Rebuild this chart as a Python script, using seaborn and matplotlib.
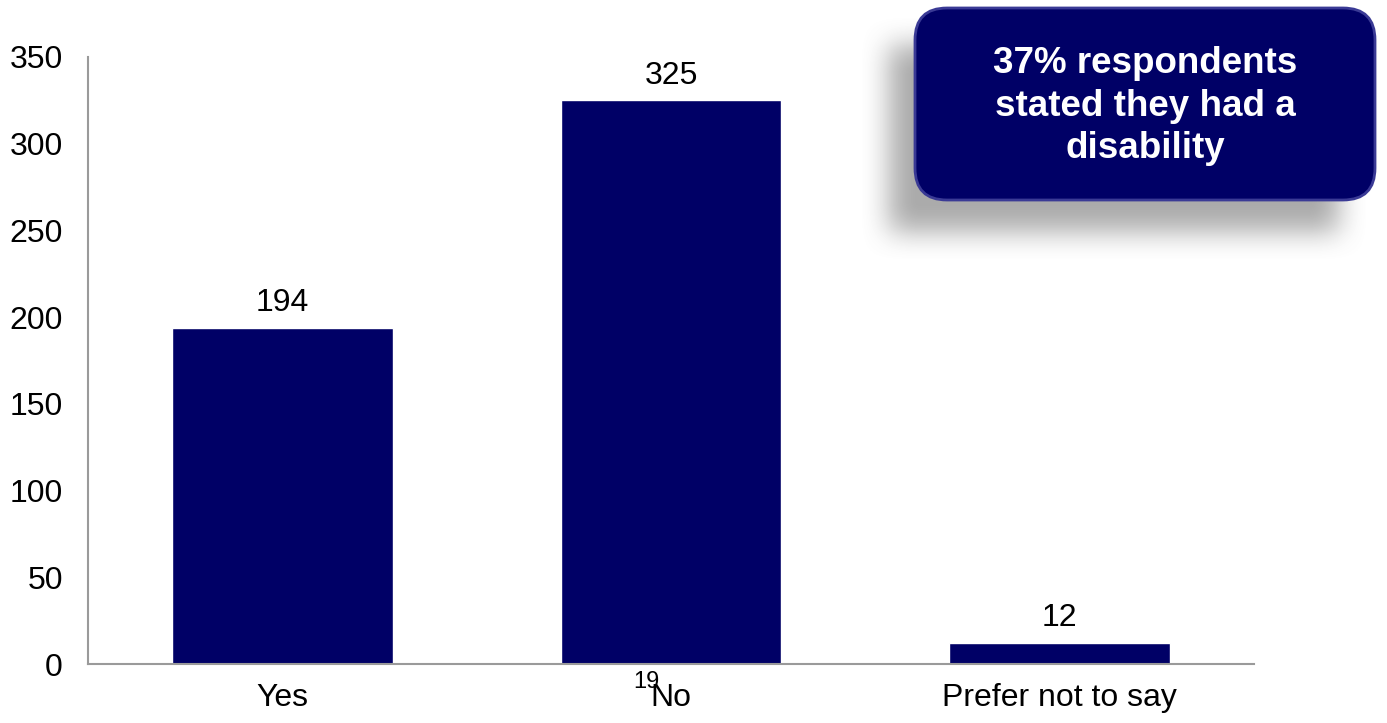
import numpy as np
import pandas as pd
import matplotlib
matplotlib.use("Agg")
import matplotlib.pyplot as plt
import seaborn as sns
from matplotlib.patches import FancyBboxPatch
from matplotlib.transforms import IdentityTransform

categories = ["Yes", "No", "Prefer not to say"]
values = [194, 325, 12]
y_ticks = [0, 50, 100, 150, 200, 250, 300, 350]
callout_text = "37% respondents\nstated they had a\ndisability"
page_number = "19"

sns.set_style("white")
plt.rcParams["font.family"] = ["Liberation Sans", "DejaVu Sans"]
plt.rcParams["text.color"] = "black"

W, H = 1387, 723
fig = plt.figure(figsize=(W / 100, H / 100), dpi=100)
ax = fig.add_axes([88 / W, 1 - 664 / H, (1254 - 88) / W, (664 - 57) / H])
ax.patch.set_alpha(0)

df = pd.DataFrame({"cat": categories, "val": values})
sns.barplot(data=df, x="cat", y="val", color="#000066", width=0.567,
            saturation=1, ax=ax, zorder=2)
ax.set_xlim(-0.5, 2.5)
ax.set_ylim(0, 350)
ax.set_yticks(y_ticks)
ax.set_xlabel("")
ax.set_ylabel("")
ax.tick_params(axis="both", length=0, labelsize=23, colors="black")
ax.tick_params(axis="y", pad=18)
ax.tick_params(axis="x", pad=14)
for s in ["top", "right"]:
    ax.spines[s].set_visible(False)
for s in ["left", "bottom"]:
    ax.spines[s].set_color("#9a9a9a")
    ax.spines[s].set_linewidth(1.5)
    ax.spines[s].set_zorder(3)

for p, v in zip(ax.patches, values):
    ax.annotate(str(v), (p.get_x() + p.get_width() / 2, p.get_height()),
                xytext=(0, 7), textcoords="offset points",
                ha="center", va="bottom", fontsize=23, color="black")

# shadow for the callout box
x0, x1, y0, y1 = 915, 1375, 8, 200  # pixel coords from top
sh = np.zeros((H, W))
dx, dy = -26, 32
sh[y0 + dy + 5:y1 + dy, x0 + dx:x1 + dx - 10] = 1.0
k = np.ones(31) / 31
for _ in range(2):
    sh = np.apply_along_axis(lambda r: np.convolve(r, k, mode="same"), 1, sh)
    sh = np.apply_along_axis(lambda c: np.convolve(c, k, mode="same"), 0, sh)
rgba = np.zeros((H, W, 4))
rgba[..., :3] = 0.45
rgba[..., 3] = sh * 0.6
fig.figimage(rgba, xo=0, yo=0, origin="upper", zorder=0)

box = FancyBboxPatch((x0, H - y1), x1 - x0, y1 - y0,
                     boxstyle="round,pad=0,rounding_size=32",
                     transform=IdentityTransform(), facecolor="#000066",
                     edgecolor="#3a3a95", linewidth=2, zorder=5)
fig.patches.append(box)
fig.text((x0 + x1) / 2 / W, 1 - 106 / H, callout_text, ha="center", va="center",
         color="white", fontsize=26.5, fontweight="bold", linespacing=1.28,
         zorder=6)

fig.text(646 / W, 1 - 682 / H, page_number, ha="center", va="center",
         fontsize=17, color="black")

fig.savefig("out.png", dpi=100, facecolor="white")
